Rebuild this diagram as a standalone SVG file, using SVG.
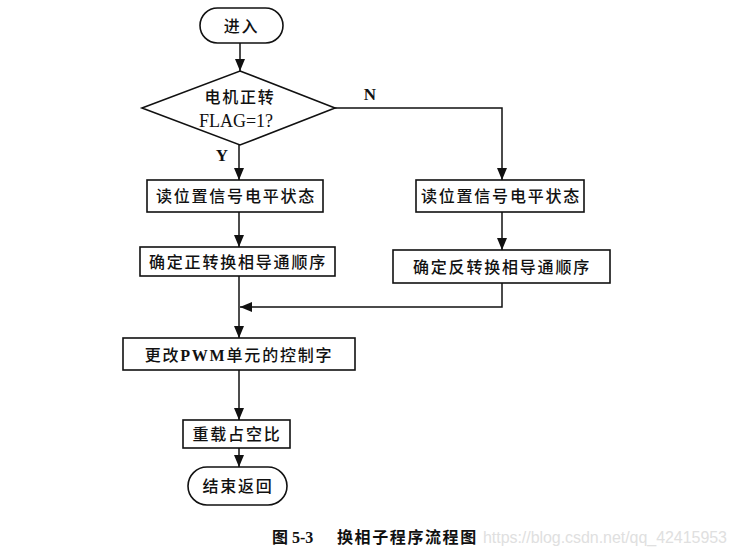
<svg xmlns="http://www.w3.org/2000/svg" width="737" height="559" viewBox="0 0 737 559">
<style>
.b{fill:#fff;stroke:#111;stroke-width:1.6}
.c{fill:none;stroke:#111;stroke-width:1.5}
.t{font-family:"Liberation Serif","Noto Sans CJK SC",serif;font-size:16px;font-weight:500;fill:#111;text-anchor:middle;dominant-baseline:central;letter-spacing:1.8px}
.l{font-family:"Liberation Serif",serif;font-size:17px;font-weight:bold;fill:#111;text-anchor:middle;dominant-baseline:central}
</style>
<defs>
<marker id="a" viewBox="0 0 12 10" refX="12" refY="5" markerWidth="12" markerHeight="10" markerUnits="userSpaceOnUse" orient="auto">
<path d="M0,0 L12,5 L0,10 z" fill="#111"/>
</marker>
</defs>
<rect width="737" height="559" fill="#fff"/>
<g id="connectors">
<line class="c" x1="240" y1="43" x2="240" y2="71" marker-end="url(#a)"/>
<line class="c" x1="239" y1="145" x2="239" y2="180" marker-end="url(#a)"/>
<line class="c" x1="239" y1="212" x2="239" y2="247" marker-end="url(#a)"/>
<line class="c" x1="239" y1="276" x2="239" y2="338" marker-end="url(#a)"/>
<polyline class="c" points="335,108 502,108 502,180" marker-end="url(#a)"/>
<line class="c" x1="502" y1="212" x2="502" y2="250" marker-end="url(#a)"/>
<polyline class="c" points="502,283 502,307 240,307" marker-end="url(#a)"/>
<line class="c" x1="239" y1="370" x2="239" y2="420" marker-end="url(#a)"/>
<line class="c" x1="239" y1="448" x2="239" y2="467" marker-end="url(#a)"/>
<text class="l" x="370" y="94">N</text>
<text class="l" x="222" y="155">Y</text>
</g>
<g id="start">
<rect class="b" x="200" y="8" width="83" height="35" rx="17.5"/>
<text class="t" x="241.5" y="26">进入</text>
</g>
<g id="decision">
<polygon class="b" points="240,71 335,108 240,145 142,108"/>
<text class="t" x="240" y="97">电机正转</text>
<text class="t" x="236" y="121" style="letter-spacing:0;font-size:18px">FLAG=1?</text>
</g>
<g id="read-left">
<rect class="b" x="147" y="180" width="176" height="32"/>
<text class="t" x="236" y="196">读位置信号电平状态</text>
</g>
<g id="seq-forward">
<rect class="b" x="140" y="247" width="195" height="29"/>
<text class="t" x="238" y="262">确定正转换相导通顺序</text>
</g>
<g id="read-right">
<rect class="b" x="416" y="180" width="168" height="32"/>
<text class="t" x="501" y="196">读位置信号电平状态</text>
</g>
<g id="seq-reverse">
<rect class="b" x="393" y="250" width="217" height="33"/>
<text class="t" x="502" y="267">确定反转换相导通顺序</text>
</g>
<g id="pwm">
<rect class="b" x="123" y="338" width="232" height="32"/>
<text class="t" x="239" y="355">更改<tspan font-weight="bold">PWM</tspan>单元的控制字</text>
</g>
<g id="reload">
<rect class="b" x="183" y="420" width="107" height="28"/>
<text class="t" x="237" y="434">重载占空比</text>
</g>
<g id="end">
<rect class="b" x="188" y="467" width="99" height="38" rx="19"/>
<text class="t" x="238" y="486">结束返回</text>
</g>
<text x="272" y="537" style="font-family:'Liberation Serif','Noto Sans CJK SC',serif;font-size:16px;font-weight:bold;fill:#111;dominant-baseline:central">图 5-3<tspan x="337" style="letter-spacing:1.6px">换相子程序流程图</tspan></text>
<text x="483" y="537" style="font-family:'Liberation Sans',sans-serif;font-size:16px;fill:#e0e0e0;dominant-baseline:central" textLength="244">https://blog.csdn.net/qq_42415953</text>
</svg>
